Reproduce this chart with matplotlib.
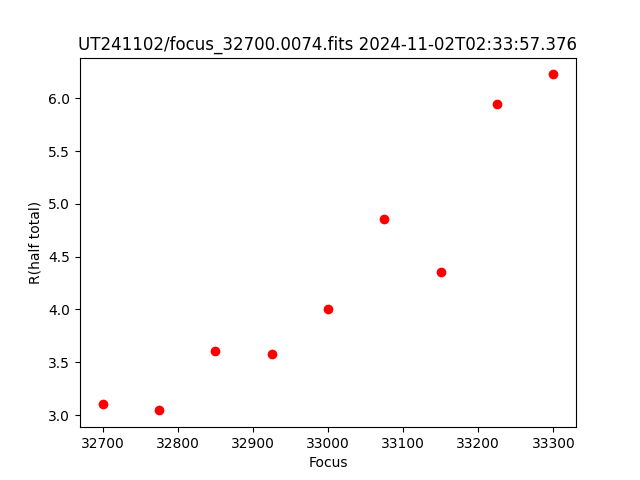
import matplotlib
matplotlib.use("Agg")
import matplotlib.pyplot as plt

# focus positions and measured half-total radius
focus = [32700, 32775, 32850, 32925, 33000, 33075, 33150, 33225, 33300]
r_half = [3.11, 3.045, 3.605, 3.577, 4.003, 4.855, 4.353, 5.943, 6.225]

plt.figure(figsize=(6.4, 4.8), dpi=100)
plt.plot(focus, r_half, "ro")
plt.xlabel("Focus")
plt.ylabel("R(half total)")
plt.title("UT241102/focus_32700.0074.fits 2024-11-02T02:33:57.376")
plt.savefig("out.png")
